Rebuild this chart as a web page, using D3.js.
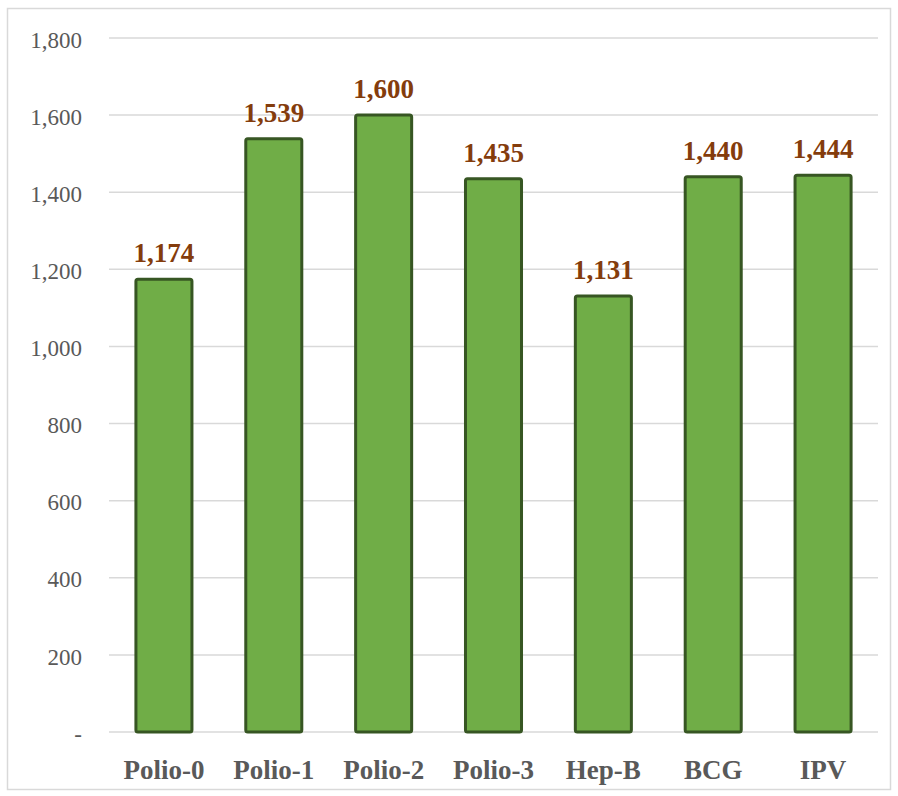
<!DOCTYPE html>
<html>
<head>
<meta charset="utf-8">
<script src="https://cdn.jsdelivr.net/npm/d3@7"></script>
<style>
  body { margin:0; background:#fff; }
  svg { display:block; }
</style>
</head>
<body>
<div id="chart"></div>
<script>
const categories = ["Polio-0","Polio-1","Polio-2","Polio-3","Hep-B","BCG","IPV"];
const values = [1174, 1539, 1600, 1435, 1131, 1440, 1444];
const yTicks = [0,200,400,600,800,1000,1200,1400,1600,1800];

const width = 898, height = 796;
const margin = { top:38, right:20, bottom:64, left:109 };
const plotRight = 878, plotBottom = 732;
const serif = '"Liberation Serif", "Times New Roman", serif';

const svg = d3.select('#chart').append('svg').attr('width', width).attr('height', height);

svg.append('rect').attr('x',7.5).attr('y',8.5).attr('width',883).attr('height',781)
   .attr('fill','#fff').attr('stroke','#d9d9d9').attr('stroke-width',1.5);

const x = d3.scaleBand().domain(categories).range([margin.left, plotRight]).paddingInner(0.49).paddingOuter(0.245);
const y = d3.scaleLinear().domain([0,1800]).range([plotBottom, margin.top]);

const fmt = d3.format(',');

// gridlines
svg.append('g').selectAll('line').data(yTicks).enter().append('line')
   .attr('x1', margin.left).attr('x2', plotRight)
   .attr('y1', d=>y(d)).attr('y2', d=>y(d))
   .attr('stroke','#d9d9d9').attr('stroke-width',1.5);

// y axis labels
const ya = svg.append('g').attr('transform',`translate(${margin.left},0)`)
   .call(d3.axisLeft(y).tickValues(yTicks).tickSize(0).tickPadding(27).tickFormat(d=> d===0 ? '-' : fmt(d)));
ya.select('.domain').remove();
ya.selectAll('text').style('font-family',serif).style('font-size','23px').attr('fill','#595959').attr('dy','0.4em');

// bars
svg.append('g').selectAll('rect').data(values).enter().append('rect')
   .attr('x',(d,i)=>x(categories[i])).attr('y', d=>y(d))
   .attr('width', x.bandwidth()).attr('height', d=>y(0)-y(d))
   .attr('rx',2).attr('ry',2)
   .attr('fill','#70ad47').attr('stroke','#375623').attr('stroke-width',3);

// value labels
svg.append('g').selectAll('text').data(values).enter().append('text')
   .attr('x',(d,i)=>x(categories[i])+x.bandwidth()/2).attr('y', d=>y(d)-17)
   .attr('text-anchor','middle')
   .style('font-family',serif).style('font-size','27px').style('font-weight','bold')
   .attr('fill','#843c0c').text(d=>fmt(d));

// x axis labels
const xa = svg.append('g').attr('transform',`translate(0,${plotBottom})`)
   .call(d3.axisBottom(x).tickSize(0).tickPadding(0));
xa.select('.domain').remove();
xa.selectAll('text').attr('dy',null).attr('y',47)
   .style('font-family',serif).style('font-size','27px').style('font-weight','bold').attr('fill','#595959');
</script>
</body>
</html>
